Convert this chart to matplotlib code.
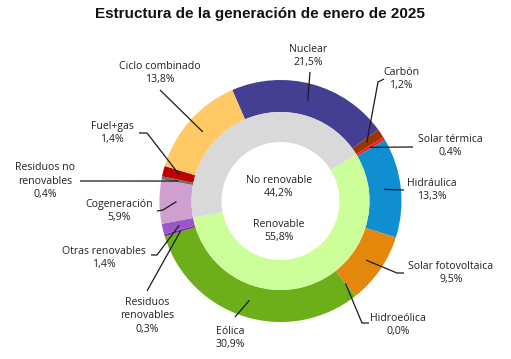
import matplotlib
matplotlib.use("Agg")
import matplotlib.pyplot as plt
import numpy as np

# datos de la generacion, enero 2025 (%)
tecnologias = ["Nuclear", "Carbón", "Solar térmica", "Hidráulica", "Solar fotovoltaica",
               "Hidroeólica", "Eólica", "Residuos\nrenovables", "Otras renovables",
               "Cogeneración", "Residuos no\nrenovables", "Fuel+gas", "Ciclo combinado"]
porcentajes = [21.5, 1.2, 0.4, 13.3, 9.5, 0.0, 30.9, 0.3, 1.4, 5.9, 0.4, 1.4, 13.8]
colores = ["#453F94", "#9C3600", "#FF1A1A", "#0F8ED1", "#E5870A", "#4472C4", "#6DAF1A",
           "#7030A0", "#9A57C8", "#CFA0CF", "#6E6E6E", "#C00000", "#FFC966"]

tipos = ["Renovable", "No renovable"]
tipos_pct = [55.8, 44.2]
tipos_colores = ["#CCFF99", "#D9D9D9"]

def fmt(v):
    return ("%.1f" % v).replace(".", ",") + "%"

W, H = 511, 359
fig = plt.figure(figsize=(W / 100, H / 100), dpi=100)
ax = fig.add_axes([0, 0, 1, 1])

cx, cy = 280.5, 201
r_out, r_mid, r_in = 121, 89, 59
inicio = 113.5  # angulo (pantalla) donde empieza Nuclear

# eje y invertido -> angulos en datos = -angulo en pantalla, sentido antihorario en datos
ax.pie(porcentajes, colors=colores, radius=r_out, center=(cx, cy),
       startangle=-inicio, counterclock=True,
       wedgeprops=dict(width=r_out - r_mid, linewidth=0))

inicio_ren = inicio - sum(porcentajes[:2]) * 3.6
ax.pie(tipos_pct, colors=tipos_colores, radius=r_mid, center=(cx, cy),
       startangle=-inicio_ren, counterclock=True,
       wedgeprops=dict(width=r_mid - r_in, linewidth=0))

ax.set_xlim(0, W)
ax.set_ylim(H, 0)
ax.set_aspect("auto")
ax.axis("off")

fuente = ["Open Sans", "DejaVu Sans"]

# posicion de etiquetas (px) y codos de las lineas guia
pos_etiquetas = [(308, 56), (401, 79), (450, 146), (432, 190), (451, 273), (398, 325),
                 (230, 338), (147, 316), (104, 258), (119, 211), (45, 181), (112, 133),
                 (160, 73)]
guias = [[(310, 72)],
         [(378, 82), (384, 79)],
         [(413, 147)],
         [(404, 190)],
         [(397, 273), (404, 273)],
         [(362, 323), (369, 323)],
         [(235, 317)],
         [(147, 291)],
         [(157, 255), (151, 255)],
         [(163, 210), (157, 211)],
         [(80, 181)],
         [(147, 133), (139, 133)],
         [(160, 90)]]

acum = 0.0
for nombre, v, (tx, ty), codos in zip(tecnologias, porcentajes, pos_etiquetas, guias):
    ang = inicio - (acum + v / 2) * 3.6
    acum += v
    r0 = 104 if v > 0 else 105
    a = np.deg2rad(ang)
    x0, y0 = cx + r0 * np.cos(a), cy - r0 * np.sin(a)
    xs = [x0] + [p[0] for p in codos]
    ys = [y0] + [p[1] for p in codos]
    ax.plot(xs, ys, color="#1a1a1a", lw=0.9, solid_capstyle="butt")
    ax.text(tx, ty, nombre + "\n" + fmt(v), ha="center", va="center",
            fontsize=7.6, family=fuente, color="#222222", linespacing=1.3)

ax.text(279, 187, tipos[1] + "\n" + fmt(tipos_pct[1]), ha="center", va="center",
        fontsize=7.6, family=fuente, color="#222222", linespacing=1.3)
ax.text(279, 231, tipos[0] + "\n" + fmt(tipos_pct[0]), ha="center", va="center",
        fontsize=7.6, family=fuente, color="#222222", linespacing=1.3)

ax.text(259.5, 14, "Estructura de la generación de enero de 2025", ha="center", va="center",
        fontsize=11, fontweight="bold", fontstretch="condensed",
        family=["Liberation Sans", "DejaVu Sans"], color="#111111")

fig.savefig("out.png", dpi=100)
